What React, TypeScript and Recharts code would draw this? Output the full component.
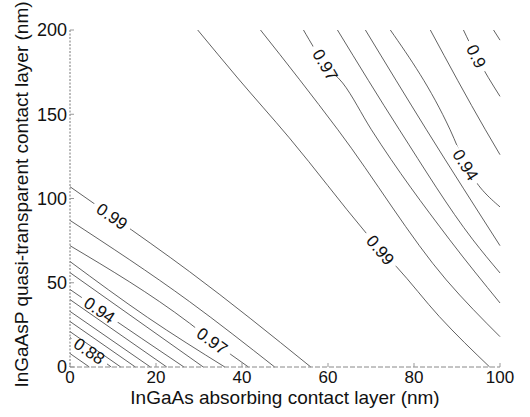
import { ComposedChart, Line, Scatter, XAxis, YAxis, Label } from "recharts"

type Pt = { x: number; y: number }

const xTicks = [0, 20, 40, 60, 80, 100]
const yTicks = [0, 50, 100, 150, 200]

// lower-left family: from the left axis down to the bottom axis
const low99: Pt[] = [{ x: 0, y: 107 }, { x: 9.8, y: 89.5 }, { x: 27.8, y: 56.6 }, { x: 56, y: 0 }]
const low98: Pt[] = [{ x: 0, y: 87 }, { x: 27.8, y: 38.8 }, { x: 47.6, y: 0 }]
const low97: Pt[] = [{ x: 0, y: 72 }, { x: 27.8, y: 26 }, { x: 33.1, y: 15.5 }, { x: 41.5, y: 0 }]
const low96: Pt[] = [{ x: 0, y: 62.6 }, { x: 18, y: 29.5 }, { x: 36, y: 0 }]
const low95: Pt[] = [{ x: 0, y: 56 }, { x: 31, y: 0 }]
const low94: Pt[] = [{ x: 0, y: 46 }, { x: 6.9, y: 33.9 }, { x: 26.5, y: 0 }]
const low93: Pt[] = [{ x: 0, y: 40 }, { x: 22.5, y: 0 }]
const low92: Pt[] = [{ x: 0, y: 33 }, { x: 18.7, y: 0 }]
const low91: Pt[] = [{ x: 0, y: 27 }, { x: 15.2, y: 0 }]
const low90: Pt[] = [{ x: 0, y: 21 }, { x: 11.8, y: 0 }]
const low89: Pt[] = [{ x: 0, y: 17.5 }, { x: 4.5, y: 9.5 }, { x: 9.6, y: 0 }]
const low88: Pt[] = [{ x: 0, y: 8 }, { x: 4.5, y: 0 }]

// upper-right family: from the top edge down to the right / bottom edge
const up99: Pt[] = [
  { x: 29.7, y: 200 }, { x: 39, y: 171.5 }, { x: 51, y: 136 }, { x: 68.9, y: 79.4 },
  { x: 72.2, y: 69.5 }, { x: 75.9, y: 59.6 }, { x: 85.9, y: 29.9 }, { x: 97.6, y: 0 },
]
const up98: Pt[] = [{ x: 44.3, y: 200 }, { x: 53.4, y: 170.5 }, { x: 62.3, y: 140.8 }, { x: 87.5, y: 51.7 }, { x: 100, y: 18 }]
const up97: Pt[] = [{ x: 54.3, y: 200 }, { x: 59.4, y: 179.4 }, { x: 63.4, y: 168.6 }, { x: 70.1, y: 140.8 }, { x: 88.3, y: 75.5 }, { x: 100, y: 38 }]
const up96: Pt[] = [{ x: 62.2, y: 200 }, { x: 76.6, y: 140.8 }, { x: 93.7, y: 75.5 }, { x: 100, y: 55.8 }]
const up95: Pt[] = [{ x: 68.7, y: 200 }, { x: 82.9, y: 140.8 }, { x: 100, y: 72 }]
const up94: Pt[] = [{ x: 74.5, y: 200 }, { x: 88.4, y: 140.8 }, { x: 92, y: 120 }, { x: 100, y: 95 }]
const up93: Pt[] = [{ x: 83.8, y: 200 }, { x: 96.6, y: 140.8 }, { x: 100, y: 126 }]
const up92: Pt[] = [{ x: 91.5, y: 200 }, { x: 94.5, y: 184.4 }, { x: 100, y: 160.6 }]
const up91: Pt[] = [{ x: 98.5, y: 200 }, { x: 100, y: 194 }]

const contours = [
  low99, low98, low97, low96, low95, low94, low93, low92, low91, low90, low89, low88,
  up99, up98, up97, up96, up95, up94, up93, up92, up91,
]

const labelPos: Pt[] = [
  { x: 9.8, y: 89.5 }, { x: 33.1, y: 15.5 }, { x: 6.9, y: 33.9 }, { x: 4.5, y: 9.5 },
  { x: 59.4, y: 179.4 }, { x: 94.5, y: 184.4 }, { x: 92, y: 120 }, { x: 72.2, y: 69.5 },
]
const labelText = ["0.99", "0.97", "0.94", "0.88", "0.97", "0.9", "0.94", "0.99"]
const labelAngle = [35, 36, 34, 35, 60, 64, 58, 50]

const labels = labelPos.map((p, i) => ({ ...p, text: labelText[i], angle: labelAngle[i] }))

const FONT = "'Liberation Sans', Arial, sans-serif"

function ContourLabel(props: any) {
  const { cx, cy, payload } = props
  if (cx == null || cy == null) return null
  const w = payload.text.length * 9.4 + 6
  return (
    <g transform={`translate(${cx},${cy}) rotate(${payload.angle})`}>
      <rect x={-w / 2} y={-3} width={w} height={6} fill="#fff" />
      <text textAnchor="middle" dy="0.36em" fontSize={17} fontFamily={FONT} fill="#111">
        {payload.text}
      </text>
    </g>
  )
}

export default function App() {
  return (
    <div style={{ position: "absolute", left: 0, top: 0, background: "#fff" }}>
      <ComposedChart width={530} height={417} margin={{ top: 30, right: 30, bottom: 0, left: 0 }}>
        <XAxis
          dataKey="x"
          type="number"
          domain={[0, 100]}
          ticks={xTicks}
          height={50}
          tickSize={-4}
          tickMargin={8}
          tick={{ fill: "#111", fontSize: 17, fontFamily: FONT }}
          axisLine={{ stroke: "#888", strokeDasharray: "5 2" }}
          tickLine={{ stroke: "#999" }}
        >
          <Label
            content={({ viewBox }: any) => (
              <text
                x={viewBox.x + viewBox.width / 2}
                y={viewBox.y + 37}
                textAnchor="middle"
                fontSize={19}
                fontFamily={FONT}
                fill="#111"
              >
                InGaAs absorbing contact layer (nm)
              </text>
            )}
          />
        </XAxis>
        <XAxis
          xAxisId="top"
          orientation="top"
          dataKey="x"
          type="number"
          domain={[0, 100]}
          ticks={xTicks}
          height={0}
          tickSize={-4}
          tick={false}
          axisLine={{ stroke: "#333", strokeWidth: 1.3 }}
          tickLine={{ stroke: "#999" }}
        >
          <Label
            content={({ viewBox }: any) => (
              <text
                x={viewBox.x + viewBox.width / 2 - 7}
                y={viewBox.y - 13}
                textAnchor="middle"
                fontSize={19}
                fontFamily={FONT}
                fill="#111"
              >
                sine in eq. (2)
              </text>
            )}
          />
        </XAxis>
        <YAxis
          type="number"
          domain={[0, 200]}
          ticks={yTicks}
          width={70}
          tickSize={-4}
          tickMargin={7}
          tick={{ fill: "#111", fontSize: 18, fontFamily: FONT }}
          axisLine={{ stroke: "#777", strokeDasharray: "2 1.5" }}
          tickLine={{ stroke: "#999" }}
        >
          <Label
            content={({ viewBox }: any) => {
              const cx = viewBox.x + 28
              const cy = viewBox.y + viewBox.height / 2 - 4
              return (
                <text
                  x={cx}
                  y={cy}
                  transform={`rotate(-90, ${cx}, ${cy})`}
                  textAnchor="middle"
                  fontSize={19}
                  fontFamily={FONT}
                  fill="#111"
                >
                  InGaAsP quasi-transparent contact layer (nm)
                </text>
              )
            }}
          />
        </YAxis>
        <YAxis
          yAxisId="right"
          orientation="right"
          type="number"
          domain={[0, 200]}
          ticks={yTicks}
          width={0}
          tickSize={-4}
          tick={false}
          axisLine={false}
          tickLine={{ stroke: "#aaa" }}
        />
        {contours.map((c, i) => (
          <Line
            key={i}
            data={c}
            dataKey="y"
            type="monotone"
            stroke="#3a3a3a"
            strokeWidth={0.8}
            dot={false}
            activeDot={false}
            isAnimationActive={false}
          />
        ))}
        <Scatter data={labels} dataKey="y" shape={ContourLabel} isAnimationActive={false} />
      </ComposedChart>
    </div>
  )
}
